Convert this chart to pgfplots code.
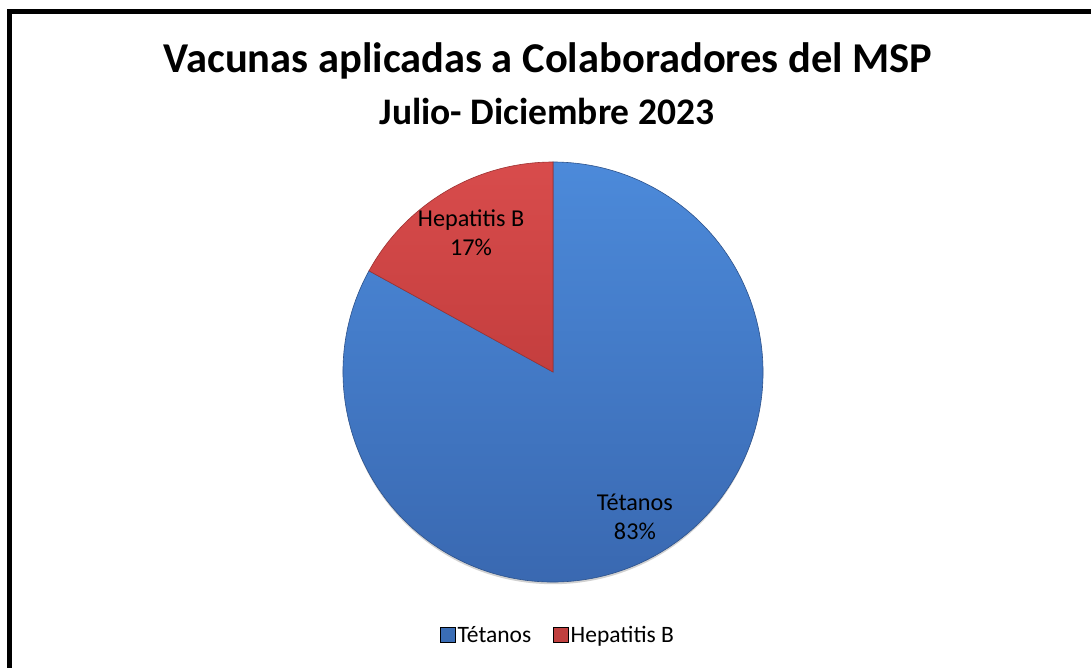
\documentclass[border=0pt]{standalone}
\usepackage{pgfplots}
\pgfplotsset{compat=1.18}
\usepackage{fontspec}
\setmainfont{Carlito}
\definecolor{blueTop}{HTML}{4C8ADA}
\definecolor{blueBot}{HTML}{3866AE}
\definecolor{redTop}{HTML}{D84C4C}
\definecolor{redBot}{HTML}{C43E3E}
\definecolor{blueLeg}{HTML}{3A6DB5}
\definecolor{redLeg}{HTML}{C0403F}
\begin{document}
\begin{tikzpicture}[x=1pt,y=1pt]
\clip (0,0) rectangle (1091,667);
\path[use as bounding box] (0,0) rectangle (1091,667);
\fill[white] (0,0) rectangle (1091,667);
\draw[line width=5pt] (9.5,-20) -- (9.5,655) -- (1110,655);
\node[font=\fontsize{42.5}{50}\selectfont\bfseries] at (548,606) {Vacunas aplicadas a Colaboradores del MSP};
\node[font=\fontsize{37.5}{44}\selectfont\bfseries] at (547,556) {Julio- Diciembre 2023};
% data: Tetanos 83, Hepatitis B 17
\pgfmathsetmacro{\pT}{83}
\pgfmathsetmacro{\pH}{17}
\pgfmathsetmacro{\aH}{90+3.6*\pH}
\begin{axis}[hide axis, scale only axis, x=210pt, y=210pt,
  xmin=-1, xmax=1, ymin=-1, ymax=1,
  at={(553pt,295pt)}, anchor=center, clip=false,
  legend style={draw=none, fill=none, at={(0.512,-0.126)}, anchor=center,
    font=\fontsize{23.5}{28}\selectfont, legend columns=2,
    /tikz/every even column/.append style={column sep=20pt}},
  legend image code/.code={\fill[#1] (0pt,-7.5pt) rectangle (15pt,7.5pt);},
]
\addlegendimage{fill=blueLeg}
\addlegendentry{Tétanos}
\addlegendimage{fill=redLeg}
\addlegendentry{Hepatitis B}
% shadow
\fill[black!18] (axis cs:0,-0.02) ellipse [x radius=209pt, y radius=208pt];
\shade[top color=blueTop, bottom color=blueBot, draw=blueBot!80!black, line width=0.6pt]
  (axis cs:0,0) -- (axis cs:{cos(\aH)},{sin(\aH)}) arc[start angle=\aH, end angle=450, radius=210pt] -- cycle;
\shade[top color=redTop, bottom color=redBot, draw=redBot!80!black, line width=0.6pt]
  (axis cs:0,0) -- (axis cs:0,1) arc[start angle=90, end angle=\aH, radius=210pt] -- cycle;
\node[align=center, font=\fontsize{24.2}{29}\selectfont] at (axis cs:-0.39,0.662) {Hepatitis B\\17\%};
\node[align=center, font=\fontsize{24.2}{29}\selectfont] at (axis cs:0.39,-0.69) {Tétanos\\83\%};
\end{axis}
\end{tikzpicture}
\end{document}
